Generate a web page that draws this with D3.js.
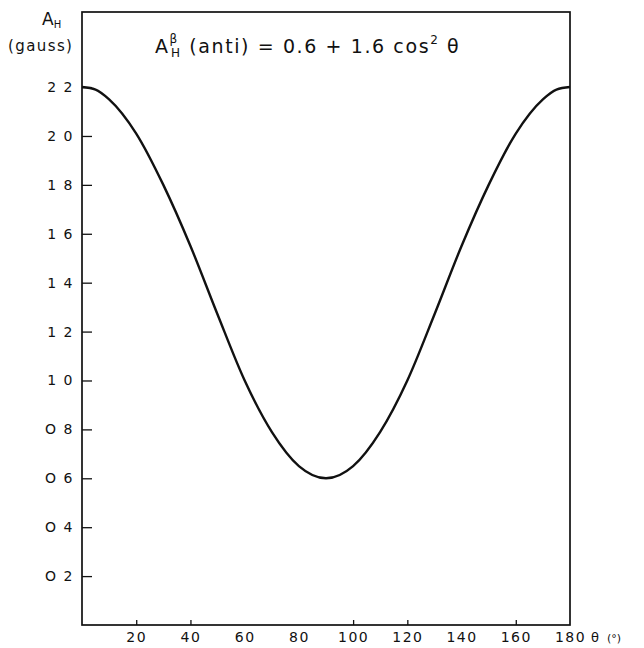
<!DOCTYPE html>
<html>
<head>
<meta charset="utf-8">
<script src="https://cdn.jsdelivr.net/npm/d3@7"></script>
<style>
  html, body { margin: 0; padding: 0; background: #fff; }
  svg { display: block; }
  text { font-family: "DejaVu Sans", sans-serif; fill: #111; }
</style>
</head>
<body>
<svg id="chart" width="644" height="648"></svg>
<script>
// Data
const thetaDeg = [0, 5, 10, 20, 30, 40, 50, 60, 70, 80, 90, 100, 110, 120, 130, 140, 150, 160, 170, 175, 180];
const aH       = [2.20, 2.19, 2.15, 2.01, 1.80, 1.55, 1.27, 1.00, 0.79, 0.65, 0.60, 0.65, 0.79, 1.00, 1.27, 1.55, 1.80, 2.01, 2.15, 2.19, 2.20];
const yTicks = [0.2, 0.4, 0.6, 0.8, 1.0, 1.2, 1.4, 1.6, 1.8, 2.0, 2.2];
const yTickLabels = ["O 2", "O 4", "O 6", "O 8", "1 0", "1 2", "1 4", "1 6", "1 8", "2 0", "2 2"];
const xTickLabels = [20, 40, 60, 80, 100, 120, 140, 160, 180];
const xTickMarks = [20, 40, 100, 120, 160];

const svg = d3.select("#chart");
const mLeft = 82, mRight = 570, mTop = 12, mBottom = 625;

const x = d3.scaleLinear().domain([0, 180]).range([mLeft, mRight]);
const y = d3.scaleLinear().domain([0, 2.507]).range([mBottom, mTop]);

const ink = "#111";

// frame
svg.append("rect")
  .attr("x", mLeft).attr("y", mTop)
  .attr("width", mRight - mLeft).attr("height", mBottom - mTop)
  .attr("fill", "none").attr("stroke", ink).attr("stroke-width", 1.7);

// y ticks
const yAxis = d3.axisLeft(y).tickValues(yTicks).tickSize(-10)
  .tickFormat((d, i) => yTickLabels[i]).tickPadding(8);
const gy = svg.append("g").attr("transform", `translate(${mLeft},0)`).call(yAxis);
gy.select(".domain").remove();
gy.selectAll(".tick line").attr("stroke", ink).attr("stroke-width", 1.3);
gy.selectAll(".tick text").style("font-family", "DejaVu Sans, sans-serif")
  .style("font-size", "14px").style("letter-spacing", "1.5px").attr("fill", ink);

// x tick marks
const gxm = svg.append("g").attr("transform", `translate(0,${mBottom})`)
  .call(d3.axisBottom(x).tickValues(xTickMarks).tickSize(-5).tickFormat(""));
gxm.select(".domain").remove();
gxm.selectAll(".tick line").attr("stroke", ink).attr("stroke-width", 1.3);

// x tick labels
const gx = svg.append("g").attr("transform", `translate(0,${mBottom})`)
  .call(d3.axisBottom(x).tickValues(xTickLabels).tickSize(0).tickPadding(7));
gx.select(".domain").remove();
gx.selectAll(".tick text").style("font-family", "DejaVu Sans, sans-serif")
  .style("font-size", "14px").style("letter-spacing", "1.5px").attr("fill", ink);

// curve
const line = d3.line()
  .x((d, i) => x(thetaDeg[i]))
  .y((d) => y(d))
  .curve(d3.curveMonotoneX);
svg.append("path").datum(aH)
  .attr("d", line)
  .attr("fill", "none").attr("stroke", ink).attr("stroke-width", 2.4);

// y axis title
const yt = svg.append("text").attr("x", 42).attr("y", 25).style("font-size", "17px");
yt.append("tspan").text("A");
yt.append("tspan").attr("dy", 3).style("font-size", "10px").text("H");
svg.append("text").attr("x", 8).attr("y", 51).style("font-size", "15px")
  .style("letter-spacing", "1.4px").text("(gauss)");

// x axis title
svg.append("text").attr("x", 591).attr("y", 642).style("font-size", "13px").text("θ");
svg.append("text").attr("x", 607).attr("y", 642).style("font-size", "11px").text("(°)");

// formula title
const t = svg.append("text").attr("x", 155).attr("y", 53).style("font-size", "19px")
  .style("letter-spacing", "1.6px");
t.append("tspan").text("A");
t.append("tspan").attr("dy", -10).style("font-size", "12px").text("β");
t.append("tspan").attr("x", 171).attr("dy", 14).style("font-size", "12px").text("H");
t.append("tspan").attr("dy", -4).text(" (anti) = 0.6 + 1.6 cos");
t.append("tspan").attr("dy", -9).style("font-size", "12px").text("2");
t.append("tspan").attr("dy", 9).text(" θ");
</script>
</body>
</html>
